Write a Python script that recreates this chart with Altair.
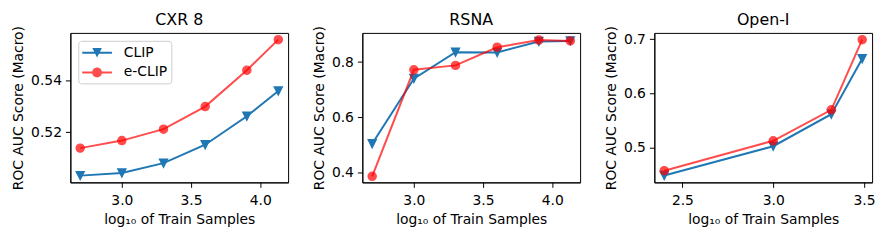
import altair as alt
import pandas as pd

# ---------------- data ----------------
series_names = ["CLIP", "e-CLIP"]
series_colors = ["#1f77b4", "#ff0000"]
series_opacity = [1.0, 0.7]

# CXR 8
cxr_x = [2.699, 3.0, 3.301, 3.602, 3.903, 4.13]
cxr_clip = [0.5033, 0.5043, 0.5081, 0.5152, 0.5262, 0.5359]
cxr_eclip = [0.5139, 0.5168, 0.5212, 0.5299, 0.5439, 0.5557]

# RSNA
rsna_x = [2.699, 3.0, 3.301, 3.602, 3.903, 4.13]
rsna_clip = [0.503, 0.740, 0.836, 0.835, 0.875, 0.877]
rsna_eclip = [0.385, 0.772, 0.788, 0.854, 0.880, 0.877]

# Open-I
openi_x = [2.40, 3.0, 3.32, 3.49]
openi_clip = [0.449, 0.503, 0.562, 0.664]
openi_eclip = [0.458, 0.513, 0.570, 0.699]

panel_titles = ["CXR 8", "RSNA", "Open-I"]
x_title = "log\u2081\u2080 of Train Samples"
y_title = "ROC AUC Score (Macro)"

FONT = "DejaVu Sans"

# marker shapes (matplotlib 'v' and 'o')
TRI_DOWN = "M-1,-1H1L0,1Z"
# legend handles: line segment + marker (unit = sqrt(symbolSize)/2 px)
LEG_LINE = "M-1.875,-0.13H1.875V0.13H-1.875Z"
LEG_CLIP = LEG_LINE + "M-0.6,-0.6H0.6L0,0.6Z"
LEG_ECLIP = LEG_LINE + "M0.62,0A0.62,0.62 0 1,1 -0.62,0A0.62,0.62 0 1,1 0.62,0Z"
legend_shapes = [LEG_CLIP, LEG_ECLIP]
marker_shapes = [TRI_DOWN, "circle"]


def make_df(xs, clip, eclip):
    rows = []
    for x, v in zip(xs, clip):
        rows.append({"x": x, "y": v, "series": "CLIP"})
    for x, v in zip(xs, eclip):
        rows.append({"x": x, "y": v, "series": "e-CLIP"})
    return pd.DataFrame(rows)


def panel(df, title, xdom, ydom, xticks, yticks, yfmt, legend=False):
    xenc = alt.X("x:Q",
                 scale=alt.Scale(domain=xdom, nice=False, zero=False),
                 axis=alt.Axis(values=xticks, format=".1f", title=x_title))
    yenc = alt.Y("y:Q",
                 scale=alt.Scale(domain=ydom, nice=False, zero=False),
                 axis=alt.Axis(values=yticks, format=yfmt, title=y_title))
    layers = []
    for name, color, op, shape in zip(series_names, series_colors,
                                      series_opacity, marker_shapes):
        sub = alt.Chart(df).transform_filter(alt.datum.series == name)
        layers.append(
            sub.mark_line(color=color, opacity=op, strokeWidth=2)
            .encode(x=xenc, y=yenc)
        )
        layers.append(
            sub.mark_point(shape=shape, filled=True, color=color, stroke=color,
                           strokeWidth=1.2, size=70, opacity=op)
            .encode(x=xenc, y=yenc)
        )
    if legend:
        leg = (
            alt.Chart(df)
            .transform_filter("false")
            .mark_point(filled=True)
            .encode(
                color=alt.Color("series:N",
                                scale=alt.Scale(domain=series_names, range=series_colors),
                                legend=alt.Legend(title=None)),
                shape=alt.Shape("series:N",
                                scale=alt.Scale(domain=series_names, range=legend_shapes),
                                legend=alt.Legend(title=None)),
                opacity=alt.Opacity("series:N",
                                    scale=alt.Scale(domain=series_names, range=series_opacity),
                                    legend=alt.Legend(title=None)),
            )
        )
        layers.append(leg)
    return alt.layer(*layers).properties(
        width=220, height=151, title=alt.TitleParams(title)
    )


p1 = panel(make_df(cxr_x, cxr_clip, cxr_eclip), panel_titles[0],
           [2.628, 4.201], [0.5007, 0.5583], [3.0, 3.5, 4.0], [0.52, 0.54], ".2f",
           legend=True)
p2 = panel(make_df(rsna_x, rsna_clip, rsna_eclip), panel_titles[1],
           [2.628, 4.201], [0.363, 0.906], [3.0, 3.5, 4.0], [0.4, 0.6, 0.8], ".1f")
p3 = panel(make_df(openi_x, openi_clip, openi_eclip), panel_titles[2],
           [2.3455, 3.5445], [0.4365, 0.7115], [2.5, 3.0, 3.5], [0.5, 0.6, 0.7], ".1f")

chart = (
    alt.hconcat(p1, p2, p3, spacing=23)
    .resolve_scale(color="independent", shape="independent", opacity="independent")
    .properties(padding={"left": 3, "top": 2, "right": 5, "bottom": 5},
                background="white")
    .configure_view(stroke="black", strokeWidth=1)
    .configure_axis(
        grid=False,
        domainColor="black", domainWidth=1,
        tickColor="black", tickWidth=1, tickSize=5,
        labelFont=FONT, labelFontSize=14, labelColor="black",
        titleFont=FONT, titleFontSize=14, titleFontWeight="normal", titleColor="black",
    )
    .configure_axisX(labelPadding=6, titlePadding=6)
    .configure_axisY(labelPadding=4, titlePadding=5)
    .configure_title(font=FONT, fontSize=16, fontWeight="normal", color="black",
                     anchor="middle", frame="group", baseline="alphabetic", offset=-2)
    .configure_legend(
        orient="none", legendX=8, legendY=8, padding=4, rowPadding=5,
        labelFont=FONT, labelFontSize=14, labelColor="black",
        labelOffset=19, symbolOffset=7, symbolSize=256, symbolStrokeWidth=0,
        fillColor="rgba(255,255,255,0.8)", strokeColor="#cccccc",
        cornerRadius=3, strokeWidth=1,
    )
)

chart.save("out.html", embed_options={"renderer": "svg", "actions": False})
